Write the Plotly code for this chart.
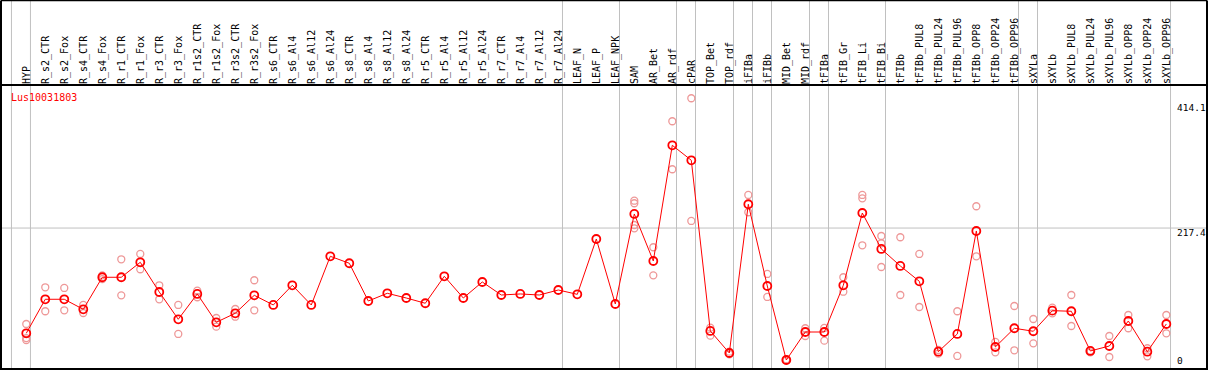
import plotly.graph_objects as go

categories = [
    "HYP", "R_s2_CTR", "R_s2_Fox", "R_s4_CTR", "R_s4_Fox", "R_r1_CTR", "R_r1_Fox",
    "R_r3_CTR", "R_r3_Fox", "R_r1s2_CTR", "R_r1s2_Fox", "R_r3s2_CTR", "R_r3s2_Fox",
    "R_s6_CTR", "R_s6_Al4", "R_s6_Al12", "R_s6_Al24", "R_s8_CTR", "R_s8_Al4",
    "R_s8_Al12", "R_s8_Al24", "R_r5_CTR", "R_r5_Al4", "R_r5_Al12", "R_r5_Al24",
    "R_r7_CTR", "R_r7_Al4", "R_r7_Al12", "R_r7_Al24", "LEAF_N", "LEAF_P", "LEAF_NPK",
    "SAM", "AR_Bet", "AR_rdf", "cPAR", "TOP_Bet", "TOP_rdf", "iFIBa", "iFIBb",
    "MID_Bet", "MID_rdf", "tFIBa", "tFIB_Gr", "tFIB_Li", "tFIB_Bi", "tFIBb",
    "tFIBb_PUL8", "tFIBb_PUL24", "tFIBb_PUL96", "tFIBb_OPP8", "tFIBb_OPP24",
    "tFIBb_OPP96", "sXYLa", "sXYLb", "sXYLb_PUL8", "sXYLb_PUL24", "sXYLb_PUL96",
    "sXYLb_OPP8", "sXYLb_OPP24", "sXYLb_OPP96",
]

means = [
    45.3, 100.9, 100.9, 84.5, 136.9, 136.9, 161.4, 112.8, 68.2, 109.6, 63.3, 78.0, 107.4,
    91.6, 123.8, 91.6, 171.2, 159.8, 98.1, 110.7, 103.0, 94.4, 138.5, 103.0, 129.2,
    107.9, 109.6, 107.9, 116.1, 109.0, 199.5, 93.2,
    240.4, 163.5, 352.7, 328.2, 49.1, 13.1, 256.3, 122.6, 1.6, 47.4, 47.4, 123.8,
    242.0, 183.2, 155.4, 130.3, 15.2, 44.2, 212.6, 22.9, 53.5, 48.6, 82.3, 81.3,
    16.4, 24.5, 65.4, 15.2, 60.5,
]

replicates = [
    [60.5, 37.5, 34.3], [120.5, 81.3], [119.4, 82.9], [91.6, 78.5], [140.0, 134.0],
    [166.3, 107.4], [175.0, 150.0], [123.8, 100.9], [91.6, 44.2], [115.0, 104.2],
    [70.3, 56.1], [85.0, 72.4], [132.0, 82.9],
    [], [], [], [], [], [], [], [], [], [], [], [], [], [], [], [], [], [], [],
    [262.1, 257.9, 222.4, 217.0], [186.0, 140.1], [392.0, 313.5], [429.6, 229.0],
    [54.5, 41.4], [15.2, 11.0], [271.5, 243.2], [142.3, 104.7], [3.0, 0.5],
    [53.5, 40.9], [54.0, 33.2], [136.9, 113.3], [271.5, 266.0, 189.2],
    [204.4, 192.5, 153.7], [202.3, 107.9], [175.0, 88.3], [18.0, 12.0],
    [81.3, 8.2], [253.0, 171.2], [31.1, 14.2], [89.9, 17.5], [68.7, 28.9],
    [87.2, 78.0], [107.9, 57.2], [17.0, 14.0], [40.9, 6.5], [75.2, 53.5],
    [20.8, 7.7], [75.2, 45.3],
]

separators_after = [-1, 0, 28, 31, 34, 35, 37, 38, 39, 41, 42, 45, 52, 53, 60]
tick_values = [414.1, 217.4, 0]
tick_labels = ["414.1", "217.4", "0"]
gene_name = "Lus10031803"

# ---- style ----
W, H = 1209, 370
ML, MR, MT, MB = 1, 2, 85, 1
PLOT_H = H - MT - MB
HEADER_TOP = 1 + (MT - 0.5) / PLOT_H
FONT = "DejaVu Sans Mono"
GRID = "#c0c0c0"
tick_yshift = [0, -4, 0]

idx = list(range(len(categories)))

rx, ry = [], []
for i, reps in enumerate(replicates):
    for v in reps:
        rx.append(i)
        ry.append(v)

fig = go.Figure()
fig.add_trace(go.Scatter(
    x=rx, y=ry, mode="markers",
    marker=dict(symbol="circle-open", size=7, color="#ee9898", line=dict(width=1.3)),
    hoverinfo="skip", showlegend=False,
))
fig.add_trace(go.Scatter(
    x=idx, y=means, mode="lines+markers",
    line=dict(color="#ff0000", width=1),
    marker=dict(symbol="circle-open", size=8, color="#ff0000", line=dict(width=1.8)),
    showlegend=False,
))

shapes = []
for s in separators_after:
    shapes.append(dict(type="line", xref="x", yref="paper", x0=s + 0.22, x1=s + 0.22,
                       y0=0, y1=HEADER_TOP, line=dict(color=GRID, width=1), layer="below"))
shapes.append(dict(type="line", xref="paper", yref="y", x0=0, x1=1, y0=tick_values[1],
                   y1=tick_values[1], line=dict(color=GRID, width=1), layer="below"))
# frame
shapes.append(dict(type="rect", xref="paper", yref="paper", x0=0, x1=1, y0=0, y1=1,
                   line=dict(color="black", width=2)))
shapes.append(dict(type="line", xref="paper", yref="paper", x0=0, x1=1,
                   y0=HEADER_TOP, y1=HEADER_TOP, line=dict(color="black", width=1.5)))
for xe in (0, 1):
    shapes.append(dict(type="line", xref="paper", yref="paper", x0=xe, x1=xe,
                       y0=1, y1=HEADER_TOP, line=dict(color="black", width=2)))

annotations = [dict(text=gene_name, xref="paper", yref="paper", x=0, y=1,
                    xanchor="left", yanchor="middle", xshift=8, yshift=-12,
                    showarrow=False, font=dict(family=FONT, size=10, color="#ff0000"))]
for v, t, ys in zip(tick_values, tick_labels, tick_yshift):
    annotations.append(dict(text=t, xref="paper", yref="y", x=1, y=v,
                            xanchor="left", yanchor="middle", xshift=-31, yshift=ys,
                            borderpad=0,
                            showarrow=False, font=dict(family=FONT, size=9.5, color="black")))

fig.update_layout(
    width=W, height=H,
    margin=dict(l=ML, r=MR, t=MT, b=MB),
    paper_bgcolor="white", plot_bgcolor="white",
    shapes=shapes, annotations=annotations,
    xaxis=dict(range=[-1.33, 62.14], tickvals=idx, ticktext=categories, side="top",
               tickangle=-90, tickfont=dict(family=FONT, size=10, color="black"),
               showgrid=False, zeroline=False, showline=False, ticks="",
               automargin=False),
    yaxis=dict(range=[-13.1, 451.3], showticklabels=False, showgrid=False,
               zeroline=False, showline=False, automargin=False),
)

fig.write_html("out.html", config={"displayModeBar": False})

# remove the browser's default page margin so the figure sits at the top-left corner
with open("out.html", encoding="utf-8") as f:
    html = f.read()
html = html.replace("<head>", "<head><style>html,body{margin:0;padding:0;overflow:hidden}</style>", 1)
with open("out.html", "w", encoding="utf-8") as f:
    f.write(html)
